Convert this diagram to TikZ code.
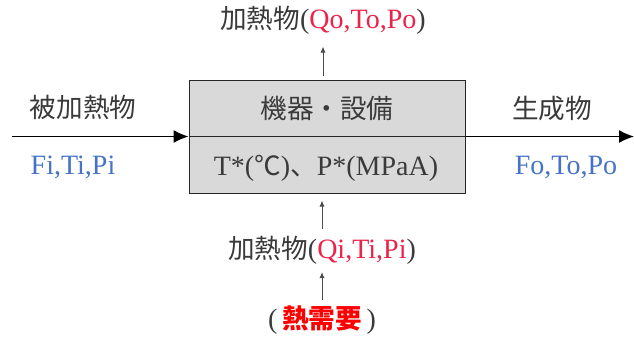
\documentclass[tikz,border=0pt]{standalone}
\usepackage{fontspec}
\setmainfont{Liberation Serif}
\newfontfamily\cjk[Scale=0.95]{Noto Sans CJK JP}
\usetikzlibrary{arrows.meta,calc}
\newcommand\J[1]{{\cjk #1}}
\definecolor{txt}{HTML}{3A3A3A}
\definecolor{blu}{RGB}{70,115,200}
\definecolor{rd}{RGB}{235,35,75}
\definecolor{boxfill}{HTML}{D9D9D9}
\tikzset{
  lbl/.style={inner sep=0pt, text=txt, font=\fontsize{28}{30}\selectfont},
  devbox/.style={draw=black!85, line width=1pt, fill=boxfill, minimum width=276pt, minimum height=113pt, inner sep=0pt},
  mainarrow/.style={line width=1.3pt, -{Latex[length=15pt,width=13pt]}},
  smallarrow/.style={line width=0.9pt, draw=black!70, -{Latex[length=6pt,width=5pt]}},
}
\begin{document}
\begin{tikzpicture}[x=1pt,y=-1pt]
\useasboundingbox (0,0) rectangle (634,340);
\node[devbox] (dev) at (327,136.5) {};
\draw[line width=1pt, black!85] (dev.west) -- (dev.east);
\node[lbl] (devname) at (327,108) {\J{機器・設備}};
\node[lbl] (cond) at (326,168) {T*(\J{℃})\J{、}P*(MPaA)};
\coordinate (inL) at (12,136.5);
\coordinate (outR) at (634,136.5);
\draw[mainarrow] (inL) -- (dev.west);
\draw[mainarrow] (dev.east) -- (outR);
\node[lbl] (feed) at (83,107) {\J{被加熱物}};
\node[lbl, text=blu] (feedv) at (73,167) {Fi,Ti,Pi};
\node[lbl] (prod) at (552,108) {\J{生成物}};
\node[lbl, text=blu] (prodv) at (566,167) {Fo,To,Po};
\node[lbl] (hout) at (323,20) {\J{加熱物}(\textcolor{rd}{Qo,To,Po})};
\node[lbl] (hin) at (322,250) {\J{加熱物}(\textcolor{rd}{Qi,Ti,Pi})};
\node[lbl] (demand) at (322,320) {(\,\textcolor{red}{\cjk\bfseries 熱需要}\,)};
\coordinate (topfoot) at (dev.north -| hout);
\draw[smallarrow] ($(topfoot)+(0,-4)$) -- ($(topfoot)+(0,-33)$);
\coordinate (botfoot) at (dev.south -| hin);
\draw[smallarrow] ($(botfoot)+(0,35)$) -- ($(botfoot)+(0,7)$);
\draw[smallarrow] ($(demand.center)+(0,-20)$) -- ($(hin.center)+(0,22)$);
\end{tikzpicture}
\end{document}
